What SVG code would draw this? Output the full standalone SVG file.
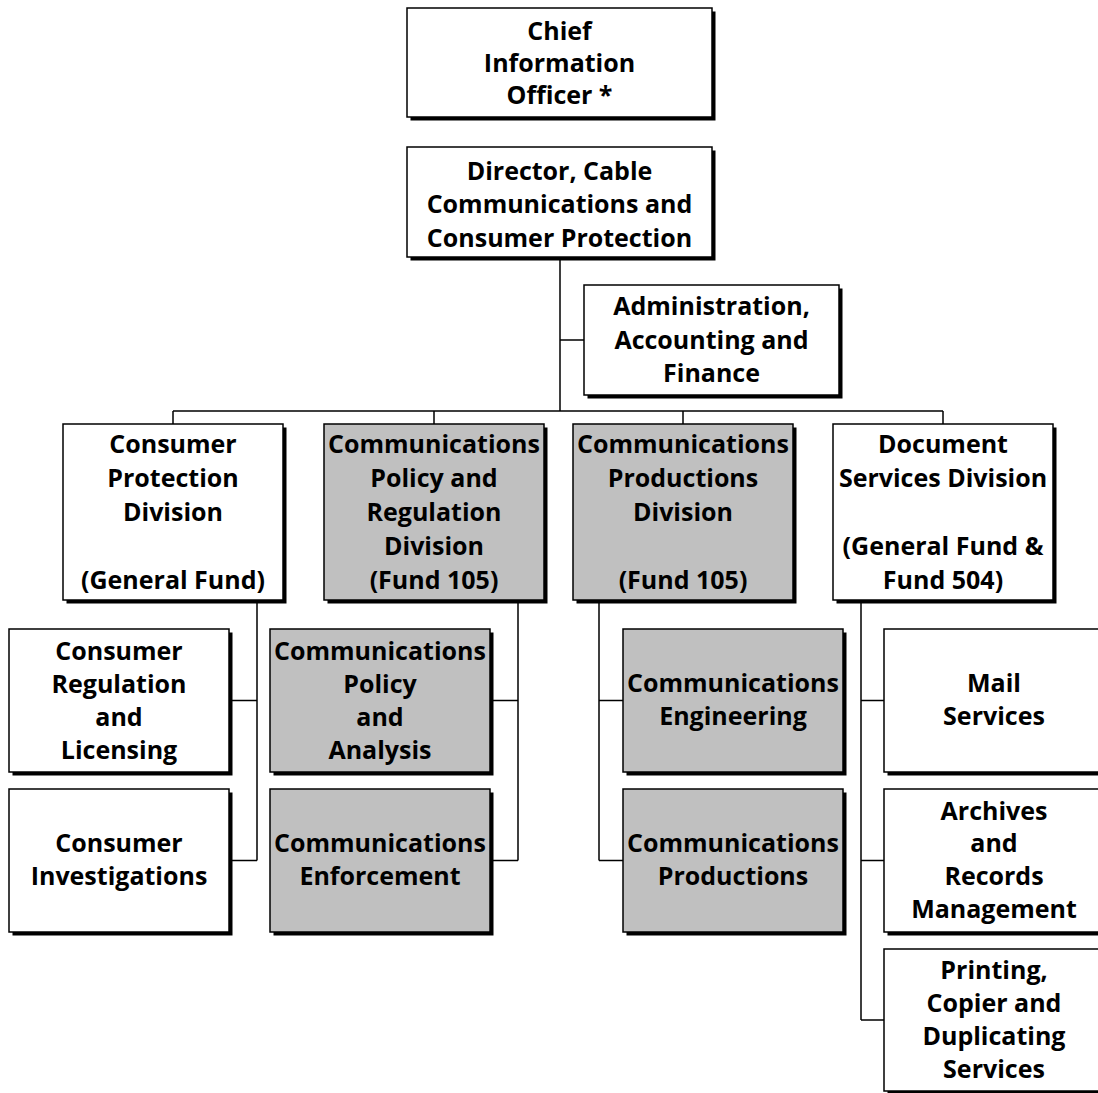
<svg xmlns="http://www.w3.org/2000/svg" width="1098" height="1093" viewBox="0 0 1098 1093">
<style>
.sh{fill:#000}
.bx{fill:#fff;stroke:#000;stroke-width:1.5}
.g .bx{fill:#c0c0c0}
.t{font-family:"Open Sans","Liberation Sans",sans-serif;font-weight:bold;font-size:25px;text-anchor:middle;fill:#000}
.c{fill:none;stroke:#000;stroke-width:1.5}
</style>
<rect width="1098" height="1093" fill="#fff"/>
<g id="connectors" class="c">
<path d="M560 257V411M560 340H584M173 411H943M173 411V424M434 411V424M683 411V424M943 411V424"/>
<path d="M257 600V860.5M229 700.5H257M229 860.5H257"/>
<path d="M518 600V860.5M490 700.5H518M490 860.5H518"/>
<path d="M599 600V860.5M599 700.5H623M599 860.5H623"/>
<path d="M861 600V1020M861 700.5H884M861 860.5H884M861 1020H884"/>
</g>
<g id="chief"><rect class="sh" x="410.5" y="11.5" width="305" height="109"/><rect class="bx" x="407" y="8" width="305" height="109"/>
<text class="t" x="559.5"><tspan x="559.5" y="40">Chief</tspan><tspan x="559.5" y="72">Information</tspan><tspan x="559.5" y="104">Officer *</tspan></text></g>
<g id="director"><rect class="sh" x="410.5" y="150.5" width="305" height="110"/><rect class="bx" x="407" y="147" width="305" height="110"/>
<text class="t"><tspan x="559.5" y="179.5">Director, Cable</tspan><tspan x="559.5" y="213">Communications and</tspan><tspan x="559.5" y="246.5">Consumer Protection</tspan></text></g>
<g id="admin"><rect class="sh" x="587.5" y="288.5" width="255" height="110"/><rect class="bx" x="584" y="285" width="255" height="110"/>
<text class="t"><tspan x="711.5" y="315">Administration,</tspan><tspan x="711.5" y="348.5">Accounting and</tspan><tspan x="711.5" y="382">Finance</tspan></text></g>
<g id="consumer-protection"><rect class="sh" x="66.5" y="427.5" width="220" height="176"/><rect class="bx" x="63" y="424" width="220" height="176"/>
<text class="t"><tspan x="173" y="453">Consumer</tspan><tspan x="173" y="487">Protection</tspan><tspan x="173" y="521">Division</tspan><tspan x="173" y="589">(General Fund)</tspan></text></g>
<g id="comm-policy" class="g"><rect class="sh" x="327.5" y="427.5" width="220" height="176"/><rect class="bx" x="324" y="424" width="220" height="176"/>
<text class="t"><tspan x="434" y="453">Communications</tspan><tspan x="434" y="487">Policy and</tspan><tspan x="434" y="521">Regulation</tspan><tspan x="434" y="555">Division</tspan><tspan x="434" y="589">(Fund 105)</tspan></text></g>
<g id="comm-productions" class="g"><rect class="sh" x="576.5" y="427.5" width="220" height="176"/><rect class="bx" x="573" y="424" width="220" height="176"/>
<text class="t"><tspan x="683" y="453">Communications</tspan><tspan x="683" y="487">Productions</tspan><tspan x="683" y="521">Division</tspan><tspan x="683" y="589">(Fund 105)</tspan></text></g>
<g id="document-services"><rect class="sh" x="836.5" y="427.5" width="220" height="176"/><rect class="bx" x="833" y="424" width="220" height="176"/>
<text class="t"><tspan x="943" y="453">Document</tspan><tspan x="943" y="487">Services Division</tspan><tspan x="943" y="555">(General Fund &amp;</tspan><tspan x="943" y="589">Fund 504)</tspan></text></g>
<g id="consumer-regulation"><rect class="sh" x="12.5" y="632.5" width="220" height="143"/><rect class="bx" x="9" y="629" width="220" height="143"/>
<text class="t"><tspan x="119" y="660">Consumer</tspan><tspan x="119" y="693">Regulation</tspan><tspan x="119" y="726">and</tspan><tspan x="119" y="759">Licensing</tspan></text></g>
<g id="consumer-investigations"><rect class="sh" x="12.5" y="792.5" width="220" height="143"/><rect class="bx" x="9" y="789" width="220" height="143"/>
<text class="t"><tspan x="119" y="852">Consumer</tspan><tspan x="119" y="885">Investigations</tspan></text></g>
<g id="comm-policy-analysis" class="g"><rect class="sh" x="273.5" y="632.5" width="220" height="143"/><rect class="bx" x="270" y="629" width="220" height="143"/>
<text class="t"><tspan x="380" y="660">Communications</tspan><tspan x="380" y="693">Policy</tspan><tspan x="380" y="726">and</tspan><tspan x="380" y="759">Analysis</tspan></text></g>
<g id="comm-enforcement" class="g"><rect class="sh" x="273.5" y="792.5" width="220" height="143"/><rect class="bx" x="270" y="789" width="220" height="143"/>
<text class="t"><tspan x="380" y="852">Communications</tspan><tspan x="380" y="885">Enforcement</tspan></text></g>
<g id="comm-engineering" class="g"><rect class="sh" x="626.5" y="632.5" width="220" height="143"/><rect class="bx" x="623" y="629" width="220" height="143"/>
<text class="t"><tspan x="733" y="692">Communications</tspan><tspan x="733" y="725">Engineering</tspan></text></g>
<g id="comm-productions-unit" class="g"><rect class="sh" x="626.5" y="792.5" width="220" height="143"/><rect class="bx" x="623" y="789" width="220" height="143"/>
<text class="t"><tspan x="733" y="852">Communications</tspan><tspan x="733" y="885">Productions</tspan></text></g>
<g id="mail-services"><rect class="sh" x="887.5" y="632.5" width="220" height="143"/><rect class="bx" x="884" y="629" width="220" height="143"/>
<text class="t"><tspan x="994" y="692">Mail</tspan><tspan x="994" y="725">Services</tspan></text></g>
<g id="archives"><rect class="sh" x="887.5" y="792.5" width="220" height="143"/><rect class="bx" x="884" y="789" width="220" height="143"/>
<text class="t"><tspan x="994" y="820">Archives</tspan><tspan x="994" y="852">and</tspan><tspan x="994" y="885">Records</tspan><tspan x="994" y="918">Management</tspan></text></g>
<g id="printing"><rect class="sh" x="887.5" y="952.5" width="220" height="142"/><rect class="bx" x="884" y="949" width="220" height="142"/>
<text class="t"><tspan x="994" y="979">Printing,</tspan><tspan x="994" y="1012">Copier and</tspan><tspan x="994" y="1045">Duplicating</tspan><tspan x="994" y="1078">Services</tspan></text></g>
</svg>
